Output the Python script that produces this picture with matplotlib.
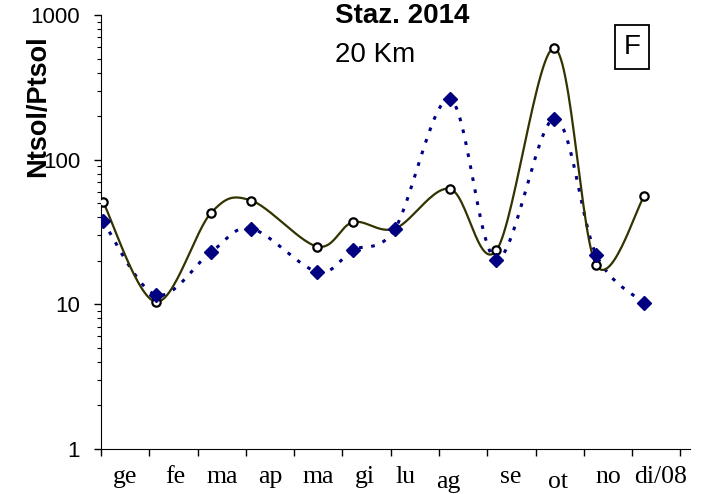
import numpy as np
import matplotlib
matplotlib.use("Agg")
import matplotlib.pyplot as plt
from matplotlib.ticker import LogLocator, NullFormatter, FixedLocator
import matplotlib.transforms as mtransforms

# sampling position (month units from start of year)
months_pos = [0.04, 1.14, 2.28, 3.11, 4.48, 5.22, 6.09, 7.23, 8.19, 9.39, 10.26, 11.25]
circle_vals = [51.3, 10.4, 42.9, 52.2, 25.1, 37.0, 33.4, 62.8, 23.6, 589, 18.6, 55.8]
diamond_vals = [37.5, 11.6, 23.0, 33.4, 16.8, 23.7, 33.4, 262, 20.4, 192, 21.9, 10.2]

month_labels = ["ge", "fe", "ma", "ap", "ma", "gi", "lu", "ag", "se", "ot", "no", "di/08"]
label_x = [0.50, 1.53, 2.51, 3.50, 4.50, 5.47, 6.30, 7.19, 8.48, 9.47, 10.51, 11.59]
label_dy = [0, 0, 0, 0, 0, 0, 0, -3.5, 0, -3.5, 0, 0]


def smooth(xs, ys, n=30):
    # Catmull-Rom through points, in (x, log y) like excel smoothed lines
    x = np.asarray(xs, float)
    y = np.log10(np.asarray(ys, float))
    px = np.concatenate([[x[0]], x, [x[-1]]])
    py = np.concatenate([[y[0]], y, [y[-1]]])
    outx, outy = [], []
    t = np.linspace(0, 1, n)
    for i in range(1, len(px) - 2):
        p0, p1, p2, p3 = px[i - 1], px[i], px[i + 1], px[i + 2]
        q0, q1, q2, q3 = py[i - 1], py[i], py[i + 1], py[i + 2]
        c1x, c1y = p1 + (p2 - p0) / 6, q1 + (q2 - q0) / 6
        c2x, c2y = p2 - (p3 - p1) / 6, q2 - (q3 - q1) / 6
        bx = (1 - t) ** 3 * p1 + 3 * (1 - t) ** 2 * t * c1x + 3 * (1 - t) * t ** 2 * c2x + t ** 3 * p2
        by = (1 - t) ** 3 * q1 + 3 * (1 - t) ** 2 * t * c1y + 3 * (1 - t) * t ** 2 * c2y + t ** 3 * q2
        outx.extend(bx)
        outy.extend(by)
    return np.array(outx), 10 ** np.array(outy)


fig = plt.figure(figsize=(7.02, 4.94), dpi=100)
ax = fig.add_axes([101 / 702, 45 / 494, 589 / 702, 434 / 494])

sx, sy = smooth(months_pos, diamond_vals)
ax.plot(sx, sy, color="#000080", lw=2.2, ls=(0, (1.2, 2.8)), zorder=2)

sx, sy = smooth(months_pos, circle_vals)
ax.plot(sx, sy, color="#333300", lw=1.6, zorder=3)
ax.plot(months_pos, circle_vals, ls="none", marker="o", ms=6, mfc="white", mec="black", mew=1.6, zorder=4)

ax.plot(months_pos, diamond_vals, ls="none", marker="D", ms=7.5, color="#000080", zorder=5)

ax.set_yscale("log")
ax.set_ylim(1, 1000)
ax.set_xlim(0, 12.2)

ax.yaxis.set_major_locator(FixedLocator([1, 10, 100, 1000]))
ax.set_yticklabels(["1", "10", "100", "1000"])
ax.yaxis.set_minor_locator(LogLocator(base=10, subs=np.arange(2, 10)))
ax.yaxis.set_minor_formatter(NullFormatter())
ax.tick_params(axis="y", which="major", direction="out", length=5, width=1, labelsize=16, pad=10)
ax.tick_params(axis="y", which="minor", direction="out", length=3, width=0.8)

ax.set_xticks(range(13))
ax.set_xticklabels([])
ax.tick_params(axis="x", which="major", direction="out", length=5, width=1)

for lab, x, dy in zip(month_labels, label_x, label_dy):
    tr = mtransforms.offset_copy(ax.get_xaxis_transform(), fig=fig, x=0, y=dy, units="points")
    ax.text(x, -0.065, lab, transform=tr, ha="center", va="center",
            family="Liberation Serif", fontsize=18.5)

for s in ["top", "right"]:
    ax.spines[s].set_visible(False)
for s in ["left", "bottom"]:
    ax.spines[s].set_color("black")

fig.text(38 / 702, 1 - 106 / 494, "Ntsol/Ptsol", rotation=90, ha="center", va="center",
         fontsize=19.5, fontweight="bold", family="Liberation Sans")

fig.text(335 / 702, 1 - 16 / 494, "Staz. 2014", ha="left", va="center",
         fontsize=20, fontweight="bold", family="Liberation Sans")
fig.text(335 / 702, 1 - 55 / 494, "20 Km", ha="left", va="center",
         fontsize=20, family="Liberation Sans")
fig.text(632 / 702, 1 - 47 / 494, "F", ha="center", va="center", fontsize=20,
         family="Liberation Sans",
         bbox=dict(boxstyle="square,pad=0.32", fc="white", ec="black", lw=1.3))

for t in ax.get_yticklabels():
    t.set_family("Liberation Sans")

fig.savefig("out.png", dpi=100)
